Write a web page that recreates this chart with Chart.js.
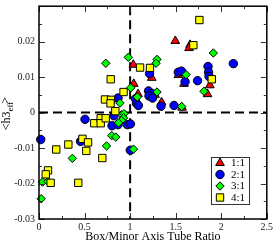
<!DOCTYPE html>
<html><head><meta charset="utf-8">
<script src="https://cdn.jsdelivr.net/npm/chart.js@4/dist/chart.umd.min.js"></script>
<style>html,body{margin:0;padding:0;background:#fff;}canvas{display:block;}</style>
</head><body>
<canvas id="c" width="273" height="242"></canvas>
<script>
const seriesNames = ['1:1', '2:1', '3:1', '4:1'];

const redX = [1.496, 1.658, 1.647, 1.035, 1.237, 1.040, 1.087, 1.273, 1.345, 1.529, 1.592, 1.875, 1.850, 1.570];
const redY = [0.0202, 0.0191, 0.0182, 0.0135, 0.0098, 0.0081, 0.0052, 0.0050, 0.0029, 0.0106, 0.0081, 0.0077, 0.0052, 0.0014];

const blueX = [2.133, 1.855, 1.861, 1.866, 1.740, 1.603, 1.529, 1.564, 1.213, 1.202, 1.237, 1.207, 1.246, 1.339, 1.482, 1.059, 1.070, 1.090, 0.867, 0.823, 0.505, 0.801, 0.867, 0.969, 1.004, 0.019, 0.456, 1.002];
const blueY = [0.0138, 0.0130, 0.0114, 0.0102, 0.0090, 0.0087, 0.0114, 0.0117, 0.0110, 0.0061, 0.0054, 0.0047, 0.0041, 0.0018, 0.0020, 0.0039, 0.0026, 0.0020, 0.0041, -0.0009, -0.0019, -0.0037, -0.0034, -0.0034, -0.0032, -0.0076, -0.0081, -0.0106];

const greenX = [1.913, 0.980, 0.733, 1.295, 1.284, 1.614, 1.007, 1.295, 1.079, 0.889, 1.811, 1.566, 0.906, 0.933, 0.928, 0.906, 0.873, 0.798, 0.842, 0.741, 1.037, 0.366, 0.038, 0.097, 0.024];
const greenY = [0.0168, 0.0156, 0.0139, 0.0150, 0.0139, 0.0107, 0.0070, 0.0058, 0.0044, 0.0027, 0.0060, 0.0017, -0.0006, -0.0003, -0.0015, -0.0022, -0.0029, -0.0065, -0.0069, -0.0094, -0.0103, -0.0129, -0.0196, -0.0194, -0.0243];

const yellowX = [1.760, 1.694, 1.109, 1.218, 1.896, 0.787, 0.928, 0.724, 0.790, 0.785, 0.838, 0.607, 0.677, 0.677, 0.732, 0.477, 0.538, 0.519, 0.322, 0.189, 0.695, 0.099, 0.074, 0.128, 0.431];
const yellowY = [0.0261, 0.0190, 0.0127, 0.0126, 0.0094, 0.0094, 0.0058, 0.0037, 0.0036, 0.0026, 0.0004, -0.0030, -0.0016, -0.0030, -0.0016, -0.0074, -0.0084, -0.0108, -0.0090, -0.0104, -0.0128, -0.0163, -0.0174, -0.0198, -0.0198];

const xTickValues = [0, 0.5, 1, 1.5, 2, 2.5];
const xTickLabels = ['0', '0.5', '1', '1.5', '2', '2.5'];
const yTickValues = [-0.03, -0.02, -0.01, 0, 0.01, 0.02];
const yTickLabels = ['-0.03', '-0.02', '-0.01', '0', '0.01', '0.02'];

const xTitle = 'Box/Minor Axis Tube Ratio';

function pts(xs, ys) { return xs.map((x, i) => ({ x: x, y: ys[i] })); }

const styles = [
  { pointStyle: 'triangle', radius: 5, color: '#ff0000', order: 4 },
  { pointStyle: 'circle', radius: 4.2, color: '#0000ff', order: 3 },
  { pointStyle: 'rectRot', radius: 4.2, color: '#00ff00', order: 2 },
  { pointStyle: 'rect', radius: 5.2, color: '#ffff00', order: 1 }
];
const seriesData = [pts(redX, redY), pts(blueX, blueY), pts(greenX, greenY), pts(yellowX, yellowY)];

const datasets = seriesNames.map((n, i) => ({
  label: n,
  data: seriesData[i],
  pointStyle: styles[i].pointStyle,
  pointRadius: styles[i].radius,
  pointBackgroundColor: styles[i].color,
  pointBorderColor: '#000',
  pointBorderWidth: 1,
  showLine: false,
  order: styles[i].order,
  clip: 6
}));

function drawMarker(ctx, style, x, y) {
  ctx.save();
  ctx.fillStyle = style.color;
  ctx.strokeStyle = '#000';
  ctx.lineWidth = 1;
  if (Chart.helpers && Chart.helpers.drawPoint) {
    Chart.helpers.drawPoint(ctx, { pointStyle: style.pointStyle, radius: style.radius, borderWidth: 1, rotation: 0 }, x, y);
  }
  ctx.restore();
}

const decor = {
  id: 'decor',
  beforeDatasetsDraw(chart) {
    const { ctx, chartArea: a, scales: { x, y } } = chart;
    ctx.save();
    ctx.strokeStyle = '#000';
    ctx.lineWidth = 2;
    ctx.setLineDash([9, 5]);
    const x1 = x.getPixelForValue(1);
    ctx.beginPath(); ctx.moveTo(x1, a.top); ctx.lineTo(x1, a.bottom); ctx.stroke();
    const y0 = y.getPixelForValue(0);
    ctx.beginPath(); ctx.moveTo(a.left, y0); ctx.lineTo(a.right, y0); ctx.stroke();
    ctx.restore();
  },
  afterDraw(chart) {
    const { ctx, chartArea: a, scales: { x, y } } = chart;
    ctx.save();
    // ticks
    ctx.strokeStyle = '#333';
    ctx.lineWidth = 1;
    for (let v = 0; v <= 2.5001; v += 0.25) {
      const px = Math.round(x.getPixelForValue(v)) + 0.5;
      const major = Math.abs(v * 2 - Math.round(v * 2)) < 1e-6;
      const L = major ? 6 : 3;
      ctx.beginPath(); ctx.moveTo(px, a.bottom); ctx.lineTo(px, a.bottom - L); ctx.stroke();
      ctx.beginPath(); ctx.moveTo(px, a.top); ctx.lineTo(px, a.top + L); ctx.stroke();
    }
    for (let k = -6; k <= 6; k++) {
      const v = k * 0.005;
      const py = Math.round(y.getPixelForValue(v)) + 0.5;
      const L = (k % 2 === 0) ? 6 : 3;
      ctx.beginPath(); ctx.moveTo(a.left, py); ctx.lineTo(a.left + L, py); ctx.stroke();
      ctx.beginPath(); ctx.moveTo(a.right, py); ctx.lineTo(a.right - L, py); ctx.stroke();
    }
    // frame
    ctx.strokeStyle = '#000';
    ctx.lineWidth = 1.5;
    ctx.strokeRect(a.left, a.top, a.right - a.left, a.bottom - a.top);
    // tick labels
    ctx.fillStyle = '#222';
    ctx.font = '10px "Liberation Serif", "DejaVu Serif", serif';
    ctx.textAlign = 'center';
    ctx.textBaseline = 'top';
    xTickValues.forEach((v, i) => {
      ctx.fillText(xTickLabels[i], x.getPixelForValue(v), a.bottom + 3);
    });
    ctx.textAlign = 'right';
    ctx.textBaseline = 'middle';
    yTickValues.forEach((v, i) => {
      ctx.fillText(yTickLabels[i], a.left - 4, y.getPixelForValue(v));
    });
    // x title
    ctx.fillStyle = '#000';
    ctx.font = '12px "Liberation Serif", "DejaVu Serif", serif';
    ctx.textAlign = 'center';
    ctx.textBaseline = 'alphabetic';
    ctx.fillText(xTitle, (a.left + a.right) / 2, 240);
    // y title: <h3 eff(sub) >
    ctx.save();
    ctx.translate(10, (a.top + a.bottom) / 2);
    ctx.rotate(-Math.PI / 2);
    const big = '12px "Liberation Serif", "DejaVu Serif", serif';
    const small = '9px "Liberation Serif", "DejaVu Serif", serif';
    ctx.font = big; const w1 = ctx.measureText('<h3').width; const w3 = ctx.measureText('>').width;
    ctx.font = small; const w2 = ctx.measureText('eff').width;
    const total = w1 + w2 + w3;
    let sx = -total / 2;
    ctx.textAlign = 'left';
    ctx.font = big; ctx.fillText('<h3', sx, 0); sx += w1;
    ctx.font = small; ctx.fillText('eff', sx, 3); sx += w2;
    ctx.font = big; ctx.fillText('>', sx - 2, -1);
    ctx.restore();
    // legend
    const lx = 211, ly = 157, lw = 38, lh = 47;
    ctx.fillStyle = '#fff';
    ctx.fillRect(lx, ly, lw, lh);
    ctx.strokeStyle = '#333';
    ctx.lineWidth = 1;
    ctx.strokeRect(lx + 0.5, ly + 0.5, lw, lh);
    ctx.font = '11px "Liberation Serif", "DejaVu Serif", serif';
    ctx.textAlign = 'left';
    ctx.textBaseline = 'middle';
    seriesNames.forEach((n, i) => {
      const yy = ly + 6 + i * 11.5;
      drawMarker(ctx, styles[i], lx + 9, yy);
      ctx.fillStyle = '#000';
      ctx.fillText(n, lx + 20, yy + 0.5);
    });
    ctx.restore();
  }
};

new Chart(document.getElementById('c'), {
  type: 'scatter',
  data: { datasets: datasets },
  options: {
    responsive: false,
    animation: false,
    devicePixelRatio: 1,
    layout: { padding: { top: 1, right: 6, left: 0, bottom: 0 } },
    plugins: { legend: { display: false }, tooltip: { enabled: false } },
    scales: {
      x: {
        type: 'linear', min: 0, max: 2.5,
        ticks: { display: false },
        grid: { display: false },
        border: { display: false },
        afterFit: s => { s.height = 23; }
      },
      y: {
        type: 'linear', min: -0.03, max: 0.03,
        ticks: { display: false },
        grid: { display: false },
        border: { display: false },
        afterFit: s => { s.width = 39; }
      }
    }
  },
  plugins: [decor]
});
</script>
</body></html>
